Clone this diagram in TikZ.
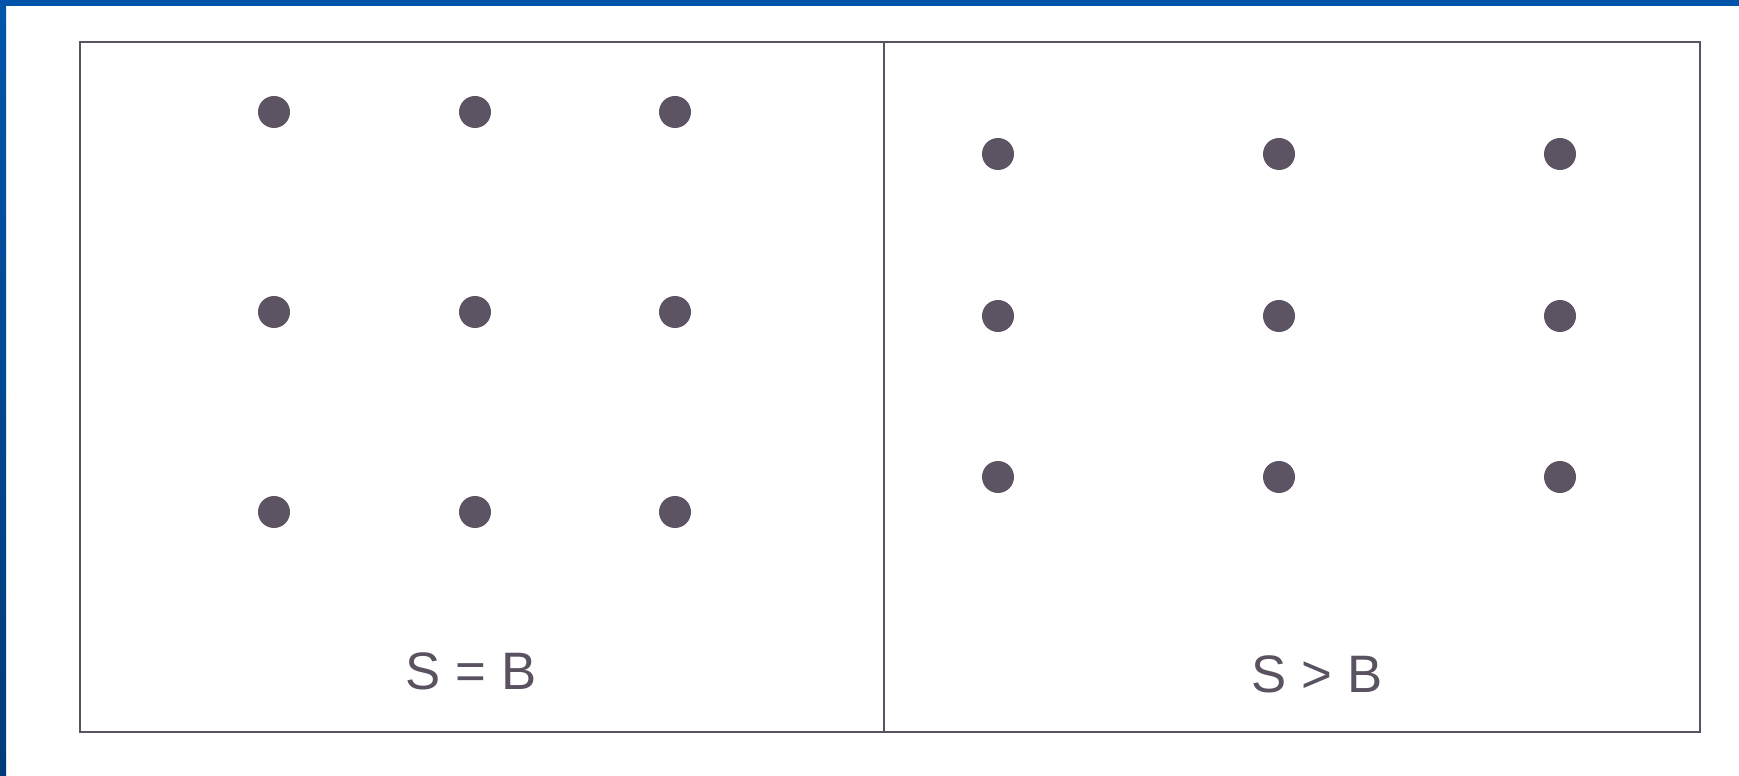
\documentclass[tikz,border=0pt]{standalone}
\usepackage{fontspec}
\setmainfont{Liberation Sans}
\usepackage{xcolor}
\usetikzlibrary{positioning}
\definecolor{band}{HTML}{0055AA}
\definecolor{banddark}{HTML}{003A78}
\definecolor{ink}{HTML}{5A5260}
\definecolor{dotc}{HTML}{5C5462}
\tikzset{
  frame/.style={draw=ink, line width=1.6pt},
  dot/.style={circle, fill=dotc, minimum size=0.64cm, inner sep=0pt},
  caption/.style={text=ink, font=\fontsize{30}{36}\selectfont, inner sep=0pt},
}

\begin{document}
\begin{tikzpicture}[x=0.02cm, y=-0.02cm]
  \useasboundingbox (0,0) rectangle (1739,776);
  \fill[white] (0,0) rectangle (1739,776);
  \fill[band] (0,0) rectangle (1739,6);
  \shade[top color=band, bottom color=banddark] (0,0) rectangle (6,776);

  \draw[frame] (80,42) rectangle (1700,732);
  \draw[frame] (884,42) -- (884,732);

  % left panel: even spacing
  \foreach \c/\x in {1/274, 2/475, 3/675}
    \foreach \r/\y in {1/112, 2/312, 3/512}
      \node[dot] (l\r\c) at (\x,\y) {};
  % right panel
  \foreach \c/\x in {1/998, 2/1279, 3/1560}
    \foreach \r/\y in {1/154, 2/316, 3/477}
      \node[dot] (r\r\c) at (\x,\y) {};

  \node[caption] (eq) at (471,671) {S = B};
  \node[caption] (gt) at (1317,674) {S > B};
\end{tikzpicture}
\end{document}
